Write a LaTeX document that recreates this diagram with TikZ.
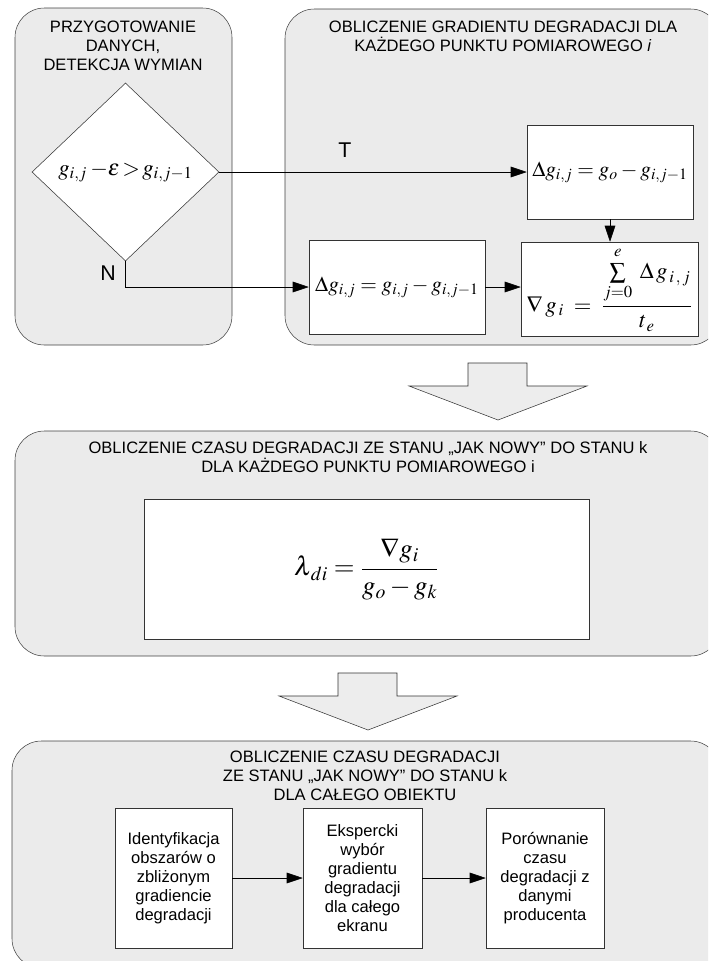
\documentclass[tikz,border=0pt]{standalone}
\usepackage{amsmath}
\usepackage{mathptmx}
\usepackage[no-math]{fontspec}
\setmainfont{Liberation Sans}
\usetikzlibrary{shapes.geometric,arrows.meta}

\begin{document}
\begin{tikzpicture}
	[
	x=0.75pt, y=-0.75pt,
	align=center,
	font=\fontsize{12.4}{14.3}\selectfont,
	wh/.style 2 args={minimum width=#1*0.75pt, minimum height=#2*0.75pt},
	panel/.style={draw=black!75, fill=black!8, rounded corners=22pt, inner sep=0pt},
	box/.style={draw=black!80, fill=white, inner sep=0pt},
	eq/.style={font=\fontsize{16}{19}\selectfont},
	lbl/.style={font=\fontsize{16}{19}\selectfont},
	flow/.style={-{Triangle[length=12pt,width=8pt]}},
	bigarrow/.pic={\draw[draw=black!80, fill=black!7] (-30,0) -- (29,0) -- (29,23) -- (89,23) -- (0,57) -- (-89,23) -- (-30,23) -- cycle;},
	]
		\clip (0,0) rectangle (708,961);
		
		% panels
		\node[panel, wh={217}{337}] (prep) at 	(123.5, 176.5) {};
		\node[panel, wh={435}{336}] (grad) at 	(502.5, 177.0) {};
		\node[panel, wh={705}{225}] (czas) at 	(367.5, 543.5) {};
		\node[panel, wh={708}{227}] (obj) at 	(366.0, 854.5) {};
		
		% titles
		\node (prept) at 	(123.0,  46.0) {PRZYGOTOWANIE\\DANYCH,\\DETEKCJA WYMIAN};
		\node (gradt) at 	(503.0,  36.0) {OBLICZENIE GRADIENTU DEGRADACJI DLA\\KAŻDEGO PUNKTU POMIAROWEGO \textit{i}};
		\node (czast) at 	(368.0, 457.5) {OBLICZENIE CZASU DEGRADACJI ZE STANU „JAK NOWY” DO STANU k\\DLA KAŻDEGO PUNKTU POMIAROWEGO i};
		\node (objt) at 	(365.0, 776.0) {OBLICZENIE CZASU DEGRADACJI\\ZE STANU „JAK NOWY” DO STANU k\\DLA CAŁEGO OBIEKTU};
		
		% decision
		\node[box, diamond, wh={187}{178}, font=\fontsize{17}{20}\selectfont] (dec) at 	(125.5, 172.0) {$g_{i,j}\:{-}\varepsilon\,{>}\,g_{i,j-1}$};
		\node[lbl] (tl) at 	(345.0, 150.0) {T};
		\node[lbl] (nl) at 	(108.0, 273.0) {N};
		
		% gradient
		\node[box, wh={166}{94}, eq] (dnew) at 	(610.0, 172.0) {$\Delta g_{i,j}=g_o-g_{i,j-1}$};
		\node[box, wh={176}{94}, eq] (dold) at 	(397.0, 287.0) {$\Delta g_{i,j}=g_{i,j}-g_{i,j-1}$};
		\node[box, wh={177}{94}, font=\fontsize{17}{20}\selectfont] (grd) at 	(609.5, 289.0) {$\nabla\, g_{\,i}\;=\;\dfrac{\sum\limits_{j=0}^{\raisebox{2pt}{$\scriptstyle e$}}\;\Delta\, g_{\,i\,,\,j}}{t_{\,e}}$};
		
		% time for each point
		\node[box, wh={445}{140}, font=\fontsize{20}{24}\selectfont] (lam) at 	(366.5, 569.0) {$\lambda_{\,di}=\dfrac{\nabla g_i}{g_o-g_k}$};
		
		% whole object
		\node[box, wh={117}{140}] (ident) at 	(173.5, 878.0) {Identyfikacja\\obszarów o\\zbliżonym\\gradiencie\\degradacji};
		\node[box, wh={119}{140}] (wybor) at 	(362.5, 878.0) {Ekspercki\\wybór\\gradientu\\degradacji\\dla całego\\ekranu};
		\node[box, wh={118}{140}] (porow) at 	(545.0, 878.0) {Porównanie\\czasu\\degradacji z\\danymi\\producenta};
		
		\draw[flow] (dec.east) -- (dnew.west);
		\draw[flow] (dec.south) |- (dold.west);
		\foreach \from/\to in {ident/wybor,wybor/porow} \draw[flow] (\from) -- (\to);
		\draw[flow] (dold.east) -- (dold.east -| grd.west);
		\draw[flow] (dnew.south) -- (dnew.south |- grd.north);
		
		% block arrows
		\pic at (498, 363) {bigarrow};
		\pic at (368, 673) {bigarrow};
		
	\end{tikzpicture}
\end{document}
